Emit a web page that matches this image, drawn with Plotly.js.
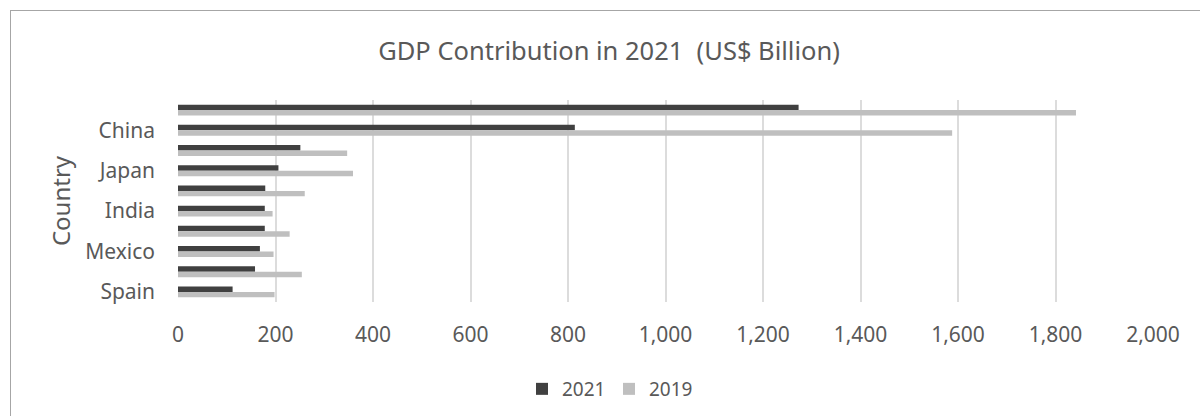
<!DOCTYPE html>
<html>
<head>
<meta charset="utf-8">
<script src="https://cdn.plot.ly/plotly-3.0.1.min.js"></script>
<style>
  html, body { margin: 0; padding: 0; background: #fff; }
  #wrap { position: relative; width: 1200px; height: 416px; overflow: hidden; }
  #chart { width: 1200px; height: 416px; }
  #frame { position: absolute; left: 10px; top: 10px; width: 1300px; height: 500px;
           border-left: 1px solid #a6a6a6; border-top: 1px solid #a6a6a6; pointer-events: none; }
</style>
</head>
<body>
<div id="wrap">
  <div id="chart"></div>
  <div id="frame"></div>
</div>
<script>
// Countries, top to bottom (only every other label is shown on the axis)
const countries = ["United States", "China", "Germany", "Japan", "United Kingdom",
                   "India", "France", "Mexico", "Italy", "Spain"];
const shownLabels = ["China", "Japan", "India", "Mexico", "Spain"];
const gdp2021 = [1273, 814, 251, 206, 179, 178, 178, 168, 158, 112];
const gdp2019 = [1842, 1588, 347, 359, 260, 194, 229, 196, 254, 198];
const xTicks = [0, 200, 400, 600, 800, 1000, 1200, 1400, 1600, 1800, 2000];

const FONT = "Noto Sans, Open Sans, sans-serif";
const TXT = "#595959";

const traces = [
  { type: "bar", orientation: "h", name: "2021", y: countries, x: gdp2021,
    marker: { color: "#404040" }, hoverinfo: "x+y" },
  { type: "bar", orientation: "h", name: "2019", y: countries, x: gdp2019,
    marker: { color: "#bfbfbf" }, hoverinfo: "x+y" }
];

const layout = {
  width: 1200, height: 416,
  margin: { l: 178, r: 47, t: 100, b: 114 },
  paper_bgcolor: "#ffffff", plot_bgcolor: "#ffffff",
  font: { family: FONT, color: TXT },
  title: { text: "GDP Contribution in 2021  (US$ Billion)", font: { size: 25.5, color: TXT, family: FONT },
           x: 609/1200, xref: "container", xanchor: "center", y: 1 - 51/416, yref: "container", yanchor: "middle" },
  barmode: "group",
  bargap: 0.46, bargroupgap: 0,
  xaxis: {
    range: [0, 2000], tickvals: xTicks, tickformat: ",d",
    showgrid: true, gridcolor: "#dcdcdc", gridwidth: 2,
    zeroline: false, showline: false, ticks: "",
    ticklabelstandoff: 18,
    tickfont: { size: 21, color: TXT, family: FONT }
  },
  yaxis: {
    type: "category", categoryorder: "array", categoryarray: countries,
    autorange: "reversed",
    tickvals: shownLabels, ticktext: shownLabels,
    showgrid: false, zeroline: false, showline: false, ticks: "",
    ticklabelstandoff: 22,
    tickfont: { size: 21, color: TXT, family: FONT },
    title: { text: "Country", font: { size: 24, color: TXT, family: FONT }, standoff: 7 }
  },
  showlegend: true,
  legend: { orientation: "h", x: 609/1200, xref: "container", xanchor: "center",
            y: 1 - 389/416, yref: "container", yanchor: "middle",
            entrywidth: 42, entrywidthmode: "pixels",
            font: { size: 19, color: TXT, family: FONT }, traceorder: "normal" }
};

Plotly.newPlot("chart", traces, layout, { displayModeBar: false, staticPlot: true });
</script>
</body>
</html>
